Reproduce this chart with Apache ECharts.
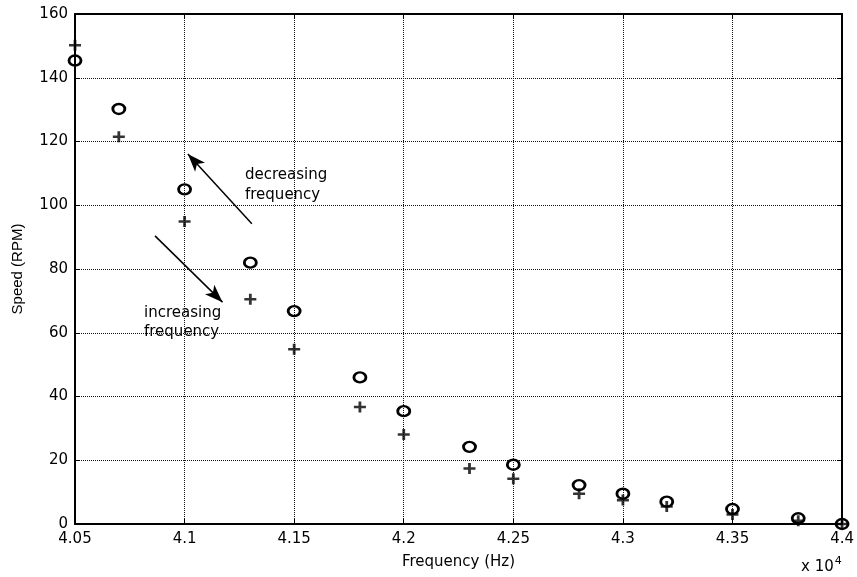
<!DOCTYPE html>
<html>
<head>
<meta charset="utf-8">
<script src="https://cdn.jsdelivr.net/npm/echarts@6/dist/echarts.min.js"></script>
<style>html,body{margin:0;padding:0;background:#fff}#c{width:857px;height:577px}</style>
</head>
<body>
<div id="c"></div>
<script>
// Data (frequency in Hz, speed in RPM)
const freqHz = [40500, 40700, 41000, 41300, 41500, 41800, 42000, 42300, 42500, 42800, 43000, 43200, 43500, 43800, 44000];
const speedCircle = [145.4, 130.2, 105.0, 82.0, 66.8, 46.0, 35.4, 24.2, 18.6, 12.2, 9.5, 7.0, 4.7, 1.8, 0];
const speedPlus = [150.2, 121.5, 94.9, 70.5, 54.8, 36.7, 28.1, 17.4, 14.2, 9.5, 7.5, 5.5, 3.0, 1.0, 0];
const xLabelScale = 1e4;
const yTicks = [0, 20, 40, 60, 80, 100, 120, 140, 160];
// annotation arrows in data coordinates: [tail, tip]
const arrowDecreasing = [[41307, 94.2], [41015, 116.1]];
const arrowIncreasing = [[40865, 90.4], [41173, 69.6]];

const FONT = 'DejaVu Sans';
const chart = echarts.init(document.getElementById('c'), null, {renderer: 'canvas'});
const circlePts = freqHz.map((f, i) => [f, speedCircle[i]]);
const plusPts = freqHz.map((f, i) => [f, speedPlus[i]]);

const baseX = {
  type: 'value', min: 40500, max: 44000, interval: 500,
  axisLine: {show: true, onZero: false, lineStyle: {color: '#000', width: 2}},
  axisTick: {show: true, inside: true, length: 5, lineStyle: {color: '#000', width: 1}},
};
const baseY = {
  type: 'value', min: yTicks[0], max: yTicks[yTicks.length - 1], interval: 20,
  axisLine: {show: true, onZero: false, lineStyle: {color: '#000', width: 2}},
  axisTick: {show: true, inside: true, length: 5, lineStyle: {color: '#000', width: 1}},
};

chart.setOption({
  animation: false,
  backgroundColor: '#fff',
  grid: {left: 75, right: 14, top: 14, bottom: 53},
  xAxis: [
    Object.assign({}, baseX, {
      position: 'bottom',
      name: 'Frequency (Hz)', nameLocation: 'middle', nameGap: 31,
      nameTextStyle: {color: '#000', fontSize: 15, fontFamily: FONT},
      axisLabel: {color: '#000', fontSize: 15, fontFamily: FONT, margin: 8,
        formatter: v => String(+(v / xLabelScale).toFixed(2))},
      splitLine: {show: true, lineStyle: {color: '#111', width: 1, type: [1, 1]}}
    }),
    Object.assign({}, baseX, {position: 'top', axisLabel: {show: false}, splitLine: {show: false}})
  ],
  yAxis: [
    Object.assign({}, baseY, {
      position: 'left',
      name: 'Speed (RPM)', nameLocation: 'middle', nameGap: 50,
      nameTextStyle: {color: '#000', fontSize: 15, fontFamily: 'Liberation Sans'},
      axisLabel: {color: '#000', fontSize: 15, fontFamily: FONT, margin: 7},
      splitLine: {show: true, lineStyle: {color: '#111', width: 1, type: [1, 1]}}
    }),
    Object.assign({}, baseY, {position: 'right', axisLabel: {show: false}, splitLine: {show: false}})
  ],
  series: [
    {
      type: 'scatter', data: circlePts, symbol: 'circle', symbolSize: [12, 10],
      itemStyle: {color: 'transparent', borderColor: '#000', borderWidth: 2.6, opacity: 1},
      z: 3,
      markLine: {
        silent: true, animation: false,
        symbol: ['none', 'arrow'], symbolSize: [10, 18],
        label: {show: false},
        lineStyle: {color: '#000', width: 1.5, type: 'solid'},
        data: [
          [{coord: arrowDecreasing[0]}, {coord: arrowDecreasing[1]}],
          [{coord: arrowIncreasing[0]}, {coord: arrowIncreasing[1]}]
        ]
      }
    },
    {
      type: 'scatter', data: plusPts,
      symbol: 'path://M4.6,0H7.4V4.6H12V7.4H7.4V12H4.6V7.4H0V4.6H4.6Z', symbolSize: [12, 11],
      itemStyle: {color: '#000'}, z: 4
    }
  ],
  graphic: [
    {type: 'text', left: 245, top: 165, style: {text: 'decreasing\nfrequency', fill: '#000', font: '15px "DejaVu Sans"', lineHeight: 20}},
    {type: 'text', left: 144, top: 304, style: {text: 'increasing\nfrequency', fill: '#000', font: '15px "DejaVu Sans"', lineHeight: 19}},
    {type: 'text', left: 801, top: 556, style: {
      text: '{b|x 10}{s|4}', fill: '#000',
      rich: {b: {fontSize: 15, fontFamily: FONT, fill: '#000', verticalAlign: 'bottom'},
             s: {fontSize: 11, fontFamily: FONT, fill: '#000', verticalAlign: 'top', padding: [0, 0, 8, 1]}}
    }}
  ]
});
</script>
</body>
</html>
